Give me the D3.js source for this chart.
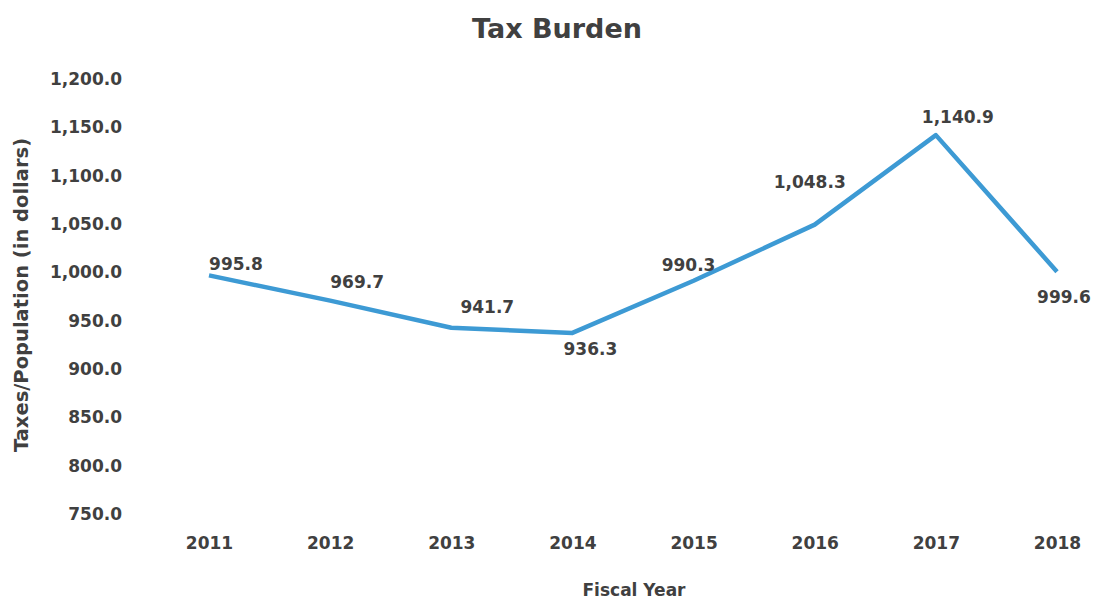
<!DOCTYPE html>
<html><head><meta charset="utf-8">
<script src="https://cdn.jsdelivr.net/npm/d3@7"></script>
<style>body{margin:0;background:#fff}svg{display:block}text{font-family:"DejaVu Sans",sans-serif;font-weight:bold;fill:#404040}</style>
</head><body><div id="c"></div>
<script>
const years = ["2011","2012","2013","2014","2015","2016","2017","2018"];
const taxBurden = [995.8, 969.7, 941.7, 936.3, 990.3, 1048.3, 1140.9, 999.6];
const yTicks = [750, 800, 850, 900, 950, 1000, 1050, 1100, 1150, 1200];
const labelOffsets = [[27,-5],[27,-13],[36,-15],[18,22],[-5,-10],[-5,-37],[22,-12],[7,31]];

const W = 1096, H = 600;
const svg = d3.select("#c").append("svg").attr("width", W).attr("height", H);
const x = d3.scalePoint().domain(years).range([209, 1057]);
const y = d3.scaleLinear().domain([750, 1200]).range([513, 78]);
const fmt = d3.format(",.1f");

svg.append("text").attr("x", 557).attr("y", 38).attr("text-anchor","middle")
  .style("font-size","27px").text("Tax Burden");

const yAxis = svg.append("g").attr("transform","translate(122,0)")
  .call(d3.axisLeft(y).tickValues(yTicks).tickFormat(fmt).tickSize(0).tickPadding(0));
yAxis.select(".domain").remove();
yAxis.selectAll("text").style("font-size","17px").attr("dy","0.38em").attr("fill","#404040");

const xAxis = svg.append("g").attr("transform","translate(0,536)")
  .call(d3.axisBottom(x).tickSize(0).tickPadding(0));
xAxis.select(".domain").remove();
xAxis.selectAll("text").style("font-size","17px").attr("dy","0.75em").attr("fill","#404040");

svg.append("text").attr("transform","translate(28,295) rotate(-90)").attr("text-anchor","middle")
  .style("font-size","19.5px").text("Taxes/Population (in dollars)");
svg.append("text").attr("x", 634).attr("y", 596).attr("text-anchor","middle")
  .style("font-size","17px").text("Fiscal Year");

svg.append("path").datum(taxBurden)
  .attr("fill","none").attr("stroke","#3d9ad4").attr("stroke-width",4.5)
  .attr("stroke-linejoin","round")
  .attr("d", d3.line().x((d,i)=>x(years[i])).y(d=>y(d)));

svg.append("g").selectAll("text").data(taxBurden).join("text")
  .attr("x",(d,i)=>x(years[i])+labelOffsets[i][0])
  .attr("y",(d,i)=>y(d)+labelOffsets[i][1])
  .attr("text-anchor","middle").style("font-size","17px")
  .text(d=>fmt(d));
</script></body></html>
